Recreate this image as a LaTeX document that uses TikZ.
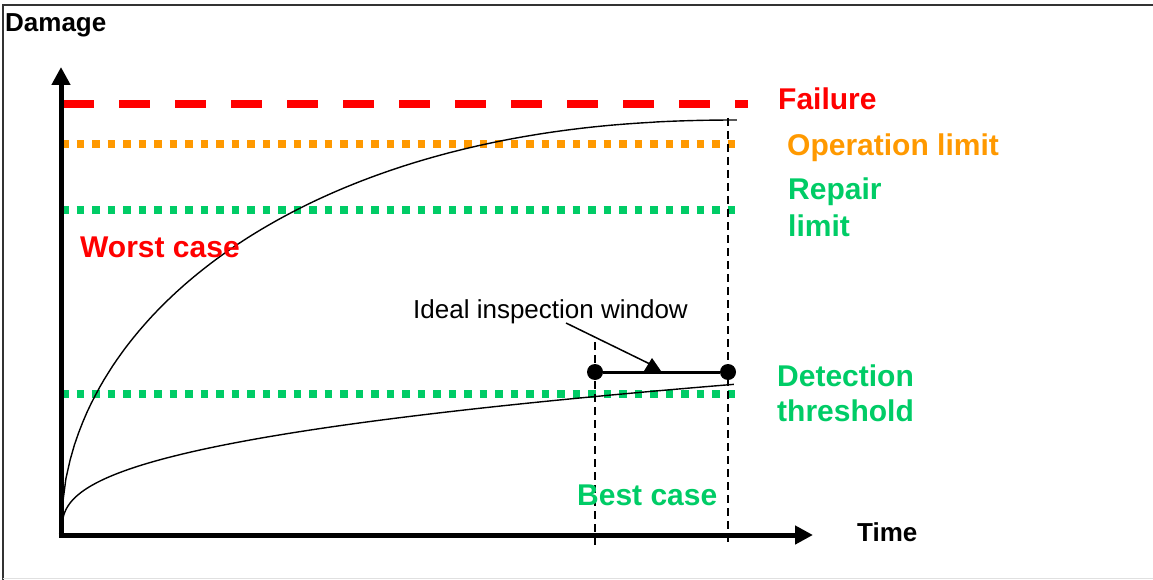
\documentclass[tikz,border=0pt]{standalone}
\usepackage{fontspec}
\setmainfont{Liberation Sans}
\usetikzlibrary{arrows.meta}
\definecolor{failred}{HTML}{FF0000}
\definecolor{oporange}{HTML}{FF9900}
\definecolor{limgreen}{HTML}{00CC66}
\definecolor{framegray}{HTML}{333333}
\tikzset{
  axisline/.style={line width=5pt, -{Triangle[width=18pt,length=18pt]}},
  dotline/.style={line width=7.5pt, dash pattern=on 7.5pt off 8pt},
  dashline/.style={line width=8pt, dash pattern=on 31pt off 25pt, color=failred},
  guide/.style={line width=1.6pt, dash pattern=on 8pt off 5pt},
  curve/.style={line width=1.4pt},
  biglabel/.style={font=\fontsize{30}{36}\selectfont\bfseries, anchor=base west, inner sep=0pt},
  axislabel/.style={font=\fontsize{26}{31}\selectfont\bfseries, anchor=base west, inner sep=0pt},
  smalllabel/.style={font=\fontsize{26}{31}\selectfont, anchor=base west, inner sep=0pt},
  endpoint/.style={circle, fill=black, minimum size=16pt, inner sep=0pt}
}
\begin{document}
\begin{tikzpicture}[x=1pt, y=-1pt]
\useasboundingbox (0,0) rectangle (1153,580);
% outer frame
\draw[framegray, line width=2pt] (2.5,580) -- (2.5,5) -- (1153,5);
\draw[black!12, line width=1pt] (2.5,578.5) -- (1153,578.5);

% threshold levels
\draw[dashline] (63,104) -- (748,104);
\draw[dotline, oporange] (61,144) -- (741,144);
\draw[dotline, limgreen] (61,210) -- (741,210);
\draw[dotline, limgreen] (61,394) -- (741,394);

% damage growth curves
\draw[curve] (62,531) -- plot[domain=0.001:1, samples=160]
  ({61+677*\x}, {530-410*sqrt(1-(1.0001-\x)^2.2)});
% slow growth: t = u^8, damage ~ u^3 (i.e. t^0.375)
\draw[curve] plot[domain=0:1, samples=240]
  ({62+676*\x*\x*\x*\x*\x*\x*\x*\x}, {531-147*\x*\x*\x});

% inspection window limits
\coordinate (g1top) at (595,342);
\coordinate (g1bot) at (595,545);
\coordinate (g2top) at (728,118);
\coordinate (g2bot) at (728,545);
\draw[guide] (g1top) -- (g1bot);
\draw[guide] (g2top) -- (g2bot);

% axes
\coordinate (origin) at (61,535);
\coordinate (ytip) at (61,67);
\coordinate (xtip) at (813,535);
\draw[axisline] (61,537.5) -- (ytip);
\draw[axisline] (58.5,535) -- (xtip);

% ideal inspection window
\node[endpoint] (wa) at (595,372) {};
\node[endpoint] (wb) at (728,372) {};
\draw[line width=3pt] (wa) -- (wb);
\node[smalllabel] (iw) at (413,318) {Ideal inspection window};
\coordinate (lead) at (566,323);
\coordinate (leadend) at (652,365);
\draw[line width=1.5pt] (lead) -- (leadend);
\fill (652,358) -- (661,371) -- (644,371) -- cycle;

% labels
\node[axislabel] (dmg) at (5,32) {Damage};
\node[axislabel] (time) at (857,541) {Time};
\node[biglabel, failred] (fail) at (778,110) {Failure};
\node[biglabel, oporange] (oplim) at (787,156) {Operation limit};
\node[biglabel, limgreen] (rep1) at (788,200) {Repair};
\node[biglabel, limgreen] (rep2) at (788,236) {limit};
\node[biglabel, failred] (worst) at (80,257) {Worst case};
\node[biglabel, limgreen] (det1) at (777,386) {Detection};
\node[biglabel, limgreen] (det2) at (777,421) {threshold};
\node[biglabel, limgreen] (best) at (577,505) {Best case};
\end{tikzpicture}
\end{document}
